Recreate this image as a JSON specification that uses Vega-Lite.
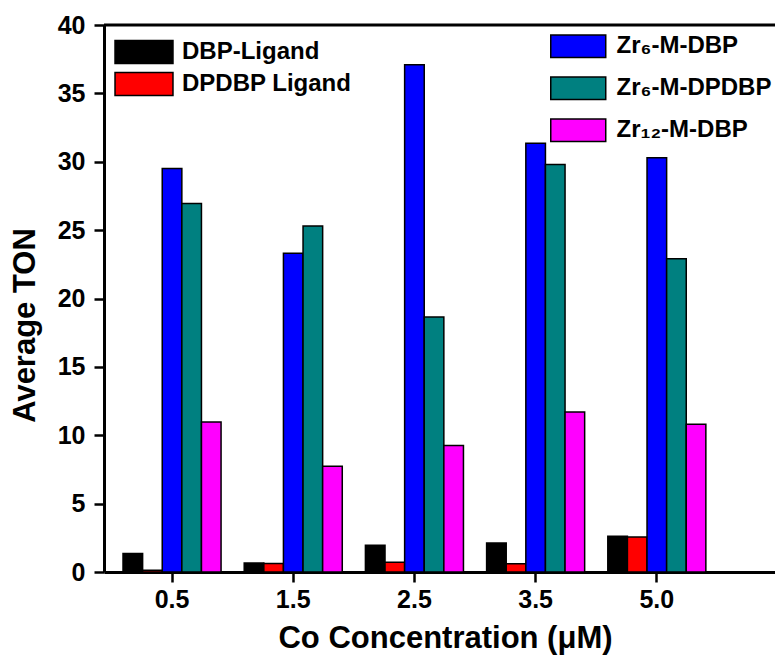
{
  "$schema": "https://vega.github.io/schema/vega-lite/v6.json",
  "width": 671,
  "height": 547,
  "autosize": "none",
  "padding": {"left": 104, "top": 25, "right": 0, "bottom": 89},
  "background": "white",
  "config": {"view": {"stroke": null}, "font": "Liberation Sans"},
  "datasets": {
    "ligand": [
      {"conc": "0.5", "series": "DBP-Ligand", "ton": 1.35},
      {"conc": "0.5", "series": "DPDBP Ligand", "ton": 0.12},
      {"conc": "1.5", "series": "DBP-Ligand", "ton": 0.66},
      {"conc": "1.5", "series": "DPDBP Ligand", "ton": 0.62},
      {"conc": "2.5", "series": "DBP-Ligand", "ton": 1.95},
      {"conc": "2.5", "series": "DPDBP Ligand", "ton": 0.71},
      {"conc": "3.5", "series": "DBP-Ligand", "ton": 2.12},
      {"conc": "3.5", "series": "DPDBP Ligand", "ton": 0.61},
      {"conc": "5.0", "series": "DBP-Ligand", "ton": 2.61},
      {"conc": "5.0", "series": "DPDBP Ligand", "ton": 2.56}
    ],
    "mof": [
      {"conc": "0.5", "series": "Zr₆-M-DBP", "ton": 29.5},
      {"conc": "0.5", "series": "Zr₆-M-DPDBP", "ton": 26.95},
      {"conc": "0.5", "series": "Zr₁₂-M-DBP", "ton": 10.97},
      {"conc": "1.5", "series": "Zr₆-M-DBP", "ton": 23.3},
      {"conc": "1.5", "series": "Zr₆-M-DPDBP", "ton": 25.3},
      {"conc": "1.5", "series": "Zr₁₂-M-DBP", "ton": 7.73},
      {"conc": "2.5", "series": "Zr₆-M-DBP", "ton": 37.1},
      {"conc": "2.5", "series": "Zr₆-M-DPDBP", "ton": 18.65},
      {"conc": "2.5", "series": "Zr₁₂-M-DBP", "ton": 9.25},
      {"conc": "3.5", "series": "Zr₆-M-DBP", "ton": 31.35},
      {"conc": "3.5", "series": "Zr₆-M-DPDBP", "ton": 29.8},
      {"conc": "3.5", "series": "Zr₁₂-M-DBP", "ton": 11.7},
      {"conc": "5.0", "series": "Zr₆-M-DBP", "ton": 30.3},
      {"conc": "5.0", "series": "Zr₆-M-DPDBP", "ton": 22.9},
      {"conc": "5.0", "series": "Zr₁₂-M-DBP", "ton": 10.8}
    ],
    "frame": [{"top": 40}]
  },
  "layer": [
    {
      "data": {"name": "ligand"},
      "mark": {"type": "bar", "stroke": "black", "strokeWidth": 1.5},
      "encoding": {
        "x": {
          "field": "conc", "type": "nominal", "sort": null,
          "scale": {"domain": ["0.5", "1.5", "2.5", "3.5", "5.0"], "paddingInner": 0.191, "paddingOuter": 0.3637, "align": 0.2157},
          "axis": {
            "title": "Co Concentration (μM)", "labelAngle": 0, "bandPosition": 0.5,
            "labelFont": "Liberation Sans", "labelFontSize": 25, "labelFontWeight": "bold", "labelColor": "black", "labelPadding": 5,
            "tickSize": 10, "tickWidth": 2.5, "tickColor": "black", "domainWidth": 3, "domainColor": "black",
            "titleFont": "Liberation Sans", "titleFontSize": 31, "titleFontWeight": "bold", "titleColor": "black",
            "titleX": 341, "titleY": 51, "titleBaseline": "top", "titleAlign": "center"
          }
        },
        "xOffset": {
          "field": "series", "type": "nominal",
          "scale": {"domain": ["DBP-Ligand", "DPDBP Ligand", "Zr₆-M-DBP", "Zr₆-M-DPDBP", "Zr₁₂-M-DBP"], "paddingInner": 0, "paddingOuter": 0}
        },
        "y": {
          "field": "ton", "type": "quantitative",
          "scale": {"domain": [0, 40], "nice": false},
          "axis": {
            "title": "Average TON",
            "values": [0, 2.5, 5, 7.5, 10, 12.5, 15, 17.5, 20, 22.5, 25, 27.5, 30, 32.5, 35, 37.5, 40],
            "labelExpr": "datum.value % 5 === 0 ? format(datum.value, 'd') : ''",
            "tickSize": {"condition": {"test": "datum.value % 5 === 0", "value": 10}, "value": 5},
            "tickWidth": 2.5, "tickColor": "black", "domainWidth": 3, "domainColor": "black",
            "labelFont": "Liberation Sans", "labelFontSize": 25, "labelFontWeight": "bold", "labelColor": "black", "labelPadding": 9,
            "grid": false,
            "titleFont": "Liberation Sans", "titleFontSize": 31, "titleFontWeight": "bold", "titleColor": "black",
            "titleX": -79, "titleY": 300, "titleAngle": -90, "titleBaseline": "middle", "titleAlign": "center"
          }
        },
        "fill": {
          "field": "series", "type": "nominal",
          "scale": {"domain": ["DBP-Ligand", "DPDBP Ligand"], "range": ["#000000", "#ff0000"]},
          "legend": {
            "orient": "none", "legendX": 27.5, "legendY": 14.5, "title": null, "padding": 0,
            "symbolType": "M-2.52,-1H2.52V1H-2.52Z", "symbolSize": 529,
            "symbolStrokeColor": "black", "symbolStrokeWidth": 1.5,
            "labelFont": "Liberation Sans", "labelFontSize": 24, "labelFontWeight": "bold", "labelColor": "black",
            "labelOffset": 25.5, "rowPadding": 3, "labelLimit": 400
          }
        }
      }
    },
    {
      "data": {"name": "mof"},
      "mark": {"type": "bar", "stroke": "black", "strokeWidth": 1.5},
      "encoding": {
        "x": {"field": "conc", "type": "nominal", "sort": null},
        "xOffset": {"field": "series", "type": "nominal"},
        "y": {"field": "ton", "type": "quantitative"},
        "fill": {
          "field": "series", "type": "nominal",
          "scale": {"domain": ["Zr₆-M-DBP", "Zr₆-M-DPDBP", "Zr₁₂-M-DBP"], "range": ["#0000ff", "#008080", "#ff00ff"]},
          "legend": {
            "orient": "none", "legendX": 462.25, "legendY": 9.2, "title": null, "padding": 0,
            "symbolType": "M-2.444,-1H2.444V1H-2.444Z", "symbolSize": 506.25,
            "symbolStrokeColor": "black", "symbolStrokeWidth": 1.5,
            "labelFont": "Liberation Sans", "labelFontSize": 24, "labelFontWeight": "bold", "labelColor": "black",
            "labelOffset": 26.25, "rowPadding": 12, "labelLimit": 400
          }
        }
      }
    },
    {
      "data": {"name": "frame"},
      "mark": {"type": "rule", "color": "black", "strokeWidth": 3},
      "encoding": {"y": {"field": "top", "type": "quantitative"}}
    }
  ],
  "resolve": {"scale": {"fill": "independent"}, "legend": {"fill": "independent"}}
}
